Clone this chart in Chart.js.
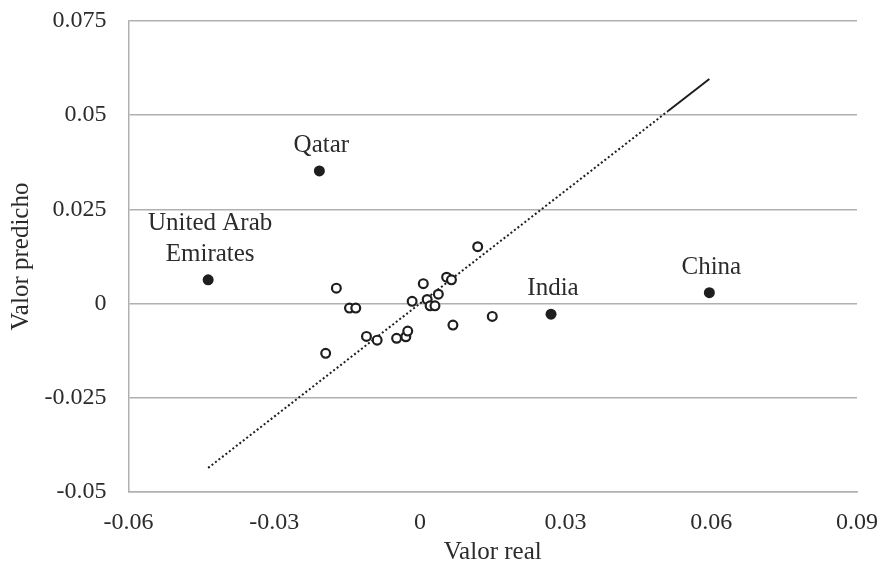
<!DOCTYPE html>
<html>
<head>
<meta charset="utf-8">
<script src="https://cdn.jsdelivr.net/npm/chart.js@4.4.1/dist/chart.umd.min.js"></script>
<style>
  html, body { margin: 0; padding: 0; background: #ffffff; }
  #wrap { width: 880px; height: 565px; }
</style>
</head>
<body>
<div id="wrap"><canvas id="chart" width="880" height="565"></canvas></div>
<script>
// Countries singled out with a name label (lines of each label)
const highlightNames = [['Qatar'], ['United Arab', 'Emirates'], ['India'], ['China']];
const highlightReal = [-0.0207, -0.0436, 0.0270, 0.0596];
const highlightPred = [0.0352, 0.0063, -0.0028, 0.0029];

// Remaining countries (unlabelled, hollow markers)
const otherReal = [0.0119, -0.0172, -0.0145, -0.0132, 0.0007, 0.0055, 0.0065, 0.0038, -0.0016, 0.0015,
                   0.0021, 0.0031, 0.0149, 0.0068, -0.0110, -0.0088, -0.0048, -0.0029, -0.0025, -0.0194];
const otherPred = [0.0151, 0.0041, -0.0012, -0.0012, 0.0053, 0.0070, 0.0063, 0.0025, 0.0006, 0.0011,
                   -0.0006, -0.0006, -0.0034, -0.0057, -0.0087, -0.0097, -0.0092, -0.0088, -0.0073, -0.0132];

// 45-degree reference line (predicted = real)
const fitReal = [-0.0436, 0.0511, 0.0596];
const fitPred = [-0.0436, 0.0511, 0.0596];

const xTickLabels = ['-0.06', '-0.03', '0', '0.03', '0.06', '0.09'];
const yTickLabels = ['-0.05', '-0.025', '0', '0.025', '0.05', '0.075'];

const FONT = "'Liberation Serif', 'Times New Roman', serif";
const TEXT = '#2b2b2b';
const GRID = '#b0b0b0';
const MARK = '#1e1e1e';

const toPoints = (xs, ys) => xs.map((x, i) => ({ x: x, y: ys[i] }));

// Draws the country names above their markers
const nameLabels = {
  id: 'nameLabels',
  afterDatasetsDraw(chart) {
    const meta = chart.getDatasetMeta(2);
    const ctx = chart.ctx;
    ctx.save();
    ctx.font = '25px ' + FONT;
    ctx.fillStyle = TEXT;
    ctx.textAlign = 'center';
    ctx.textBaseline = 'alphabetic';
    const lineGap = 31;
    meta.data.forEach((pt, i) => {
      const lines = highlightNames[i];
      let y = pt.y - 19;
      for (let k = lines.length - 1; k >= 0; k--) {
        ctx.fillText(lines[k], pt.x + 2, y);
        y -= lineGap;
      }
    });
    ctx.restore();
  }
};

new Chart(document.getElementById('chart'), {
  type: 'scatter',
  data: {
    datasets: [
      {
        type: 'line',
        data: toPoints(fitReal, fitPred),
        borderColor: MARK,
        borderWidth: 2,
        pointRadius: 0,
        fill: false,
        segment: {
          borderDash: ctx => ctx.p0DataIndex === 0 ? [2, 2.4] : []
        },
        order: 3
      },
      {
        data: toPoints(otherReal, otherPred),
        pointRadius: 4.4,
        pointBorderWidth: 2.2,
        pointBackgroundColor: '#ffffff',
        pointBorderColor: MARK,
        order: 2
      },
      {
        data: toPoints(highlightReal, highlightPred),
        pointRadius: 5.5,
        pointBorderWidth: 0,
        pointBackgroundColor: MARK,
        pointBorderColor: MARK,
        order: 1
      }
    ]
  },
  options: {
    responsive: false,
    animation: false,
    devicePixelRatio: 1,
    layout: { padding: { left: 0, right: 23, top: 21, bottom: 0 } },
    plugins: {
      legend: { display: false },
      tooltip: { enabled: false }
    },
    scales: {
      x: {
        type: 'linear',
        min: -0.06,
        max: 0.09,
        ticks: {
          stepSize: 0.03,
          padding: 16,
          color: TEXT,
          font: { family: FONT, size: 24 },
          callback: (v, i) => xTickLabels[i]
        },
        grid: { display: false, drawTicks: false },
        border: { display: true, color: GRID, width: 1.5 },
        title: {
          display: true,
          text: 'Valor real',
          color: TEXT,
          font: { family: FONT, size: 25, lineHeight: 1 },
          padding: { top: 0, bottom: 0 }
        },
        afterFit: s => { s.height = 565 - 492; s.paddingLeft = 0; s.paddingRight = 0; }
      },
      y: {
        type: 'linear',
        min: -0.05,
        max: 0.075,
        ticks: {
          stepSize: 0.025,
          padding: 22,
          color: TEXT,
          font: { family: FONT, size: 24 },
          callback: (v, i) => yTickLabels[i]
        },
        grid: { color: GRID, lineWidth: 1.5, drawTicks: false },
        border: { display: true, color: GRID, width: 1.5 },
        title: {
          display: true,
          text: 'Valor predicho',
          color: TEXT,
          font: { family: FONT, size: 25, lineHeight: 1 },
          padding: { top: 9, bottom: 0 }
        },
        afterFit: s => { s.width = 128.5; s.paddingTop = 0; s.paddingBottom = 0; }
      }
    }
  },
  plugins: [nameLabels]
});
</script>
</body>
</html>
